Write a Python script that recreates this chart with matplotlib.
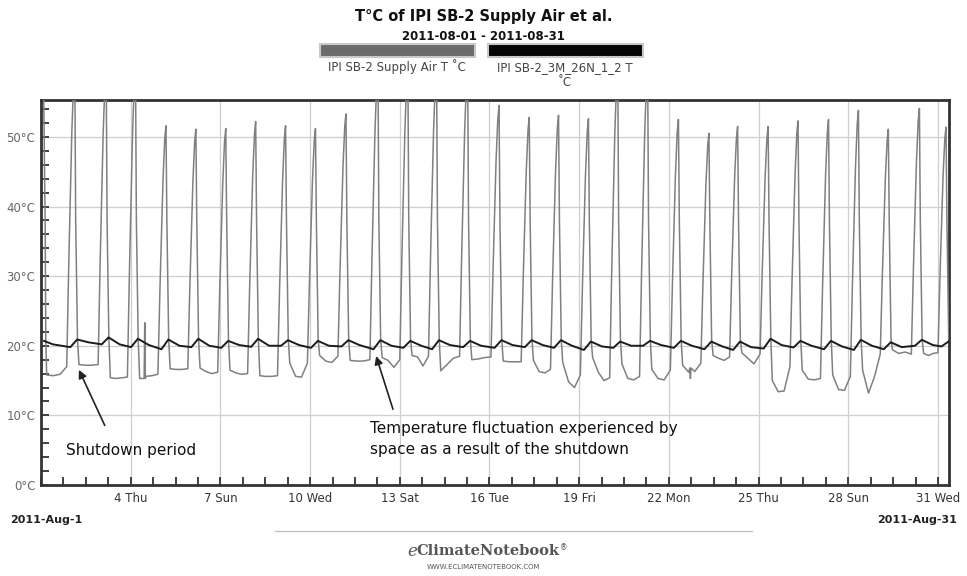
import numpy as np
import matplotlib.pyplot as plt
from matplotlib.patches import Rectangle
from matplotlib.lines import Line2D

# ---- data (x = day of August 2011, fractional) ----
# daily supply air spikes: time of peak and peak temperature (60 = runs off the top)
peak_day = [2.13, 3.18, 4.16, 5.18, 6.18, 7.18, 8.18, 9.18, 10.18, 11.2,
            12.27, 13.27, 14.23, 15.27, 16.32, 17.33, 18.31, 19.31, 20.29, 21.29,
            22.32, 23.34, 24.3, 25.32, 26.32, 27.34, 28.34, 29.34, 30.38, 31.27]
peak_temp = [60, 60, 60, 51.6, 51.1, 51.2, 52.2, 51.6, 51.2, 53.3,
             60, 60, 60, 60, 54.5, 52.8, 53.1, 52.6, 60, 60,
             52.5, 50.5, 51.5, 51.5, 52.3, 52.5, 53.8, 51.1, 54.1, 51.4]

# supply air between spikes (shutdown hours), four readings per gap, gap i comes before spike i
night_a = [15.8, 17.3, 15.4, 15.3, 16.7, 16.8, 16.5, 15.7, 17.5, 18.6,
           17.9, 18.3, 18.6, 16.4, 18.0, 17.8, 17.9, 17.6, 18.3, 17.4,
           16.6, 17.2, 18.6, 19.0, 15.0, 16.5, 15.8, 16.5, 19.4, 18.9]
night_b = [15.7, 17.2, 15.3, 15.6, 16.6, 16.3, 16.1, 15.6, 15.6, 17.8,
           17.8, 17.9, 18.4, 17.3, 18.1, 17.7, 16.3, 14.8, 16.2, 15.3,
           15.3, 16.2, 18.2, 18.2, 13.4, 15.2, 13.7, 13.2, 18.9, 18.6]
night_c = [15.9, 17.2, 15.4, 15.7, 16.6, 16.0, 15.9, 15.6, 15.5, 17.6,
           17.8, 16.9, 17.1, 18.2, 18.3, 17.7, 16.1, 14.0, 15.0, 15.1,
           15.1, 16.3, 17.9, 17.4, 13.5, 15.1, 13.6, 15.5, 19.1, 18.9]
night_d = [17.0, 17.3, 15.5, 15.9, 16.7, 16.2, 16.0, 15.7, 17.5, 18.5,
           18.0, 18.0, 18.5, 18.5, 18.4, 17.7, 16.6, 15.8, 15.4, 15.6,
           16.5, 17.5, 18.4, 18.8, 17.0, 15.3, 15.6, 18.8, 18.8, 19.0]

# short sensor glitches in the supply air trace
glitch_day = [4.45, 4.47, 4.49, 22.70, 22.72, 22.74]
glitch_temp = [15.3, 23.3, 15.3, 16.8, 15.3, 16.8]

# space temperature: just before, just after and between each spike
space_lo = [19.8, 20.2, 19.8, 19.5, 19.8, 19.7, 19.85, 20.0, 19.7, 19.9,
            19.5, 19.7, 19.5, 19.8, 19.7, 19.8, 19.7, 19.4, 19.7, 20.0,
            19.7, 19.5, 19.4, 19.6, 19.75, 19.5, 19.4, 19.5, 20.0, 19.9]
space_hi = [20.9, 21.2, 21.0, 20.9, 21.0, 20.7, 21.0, 20.8, 20.7, 20.8,
            20.8, 20.7, 20.8, 20.7, 20.8, 20.8, 20.8, 20.6, 20.6, 20.7,
            20.7, 20.6, 20.6, 21.0, 20.7, 20.7, 20.85, 20.5, 20.85, 20.6]
space_mid = [20.5, 20.2, 20.1, 20.0, 20.0, 20.1, 20.0, 20.1, 20.0, 20.1,
             20.0, 20.0, 20.1, 20.0, 20.1, 20.1, 20.0, 19.9, 20.0, 20.1,
             20.0, 19.9, 19.8, 20.1, 20.0, 19.9, 20.0, 19.8, 20.1, 20.1]

tick_days = [4, 7, 10, 13, 16, 19, 22, 25, 28, 31]
tick_labels = ['4 Thu', '7 Sun', '10 Wed', '13 Sat', '16 Tue', '19 Fri',
               '22 Mon', '25 Thu', '28 Sun', '31 Wed']
y_ticks = [0, 10, 20, 30, 40, 50]

# ---- build the two traces ----
sup = [(1.08, 60), (1.14, 37), (1.16, 21)]
prev = 1.05
for i, tp in enumerate(peak_day):
    start = prev + 0.14
    end = tp - 0.27
    for f, v in zip([0, 1/3, 2/3, 1], [night_a[i], night_b[i], night_c[i], night_d[i]]):
        sup.append((start + f * (end - start), v))
    base = night_d[i]
    p = peak_temp[i]
    sup += [(tp - 0.2, base + 0.35 * (p - base)), (tp - 0.1, base + 0.78 * (p - base)),
            (tp - 0.04, base + 0.95 * (p - base)), (tp, p),
            (tp + 0.03, 38), (tp + 0.09, 21)]
    prev = tp
sup += list(zip(glitch_day, glitch_temp))
sup.sort()
sup_t = [s[0] for s in sup]
sup_v = [s[1] for s in sup]

spc = [(1.1, 20.7), (1.4, 20.2)]
for i, tp in enumerate(peak_day):
    spc += [(tp - 0.15, space_lo[i]), (tp + 0.08, space_hi[i]), (tp + 0.45, space_mid[i])]
spc_t = [s[0] for s in spc]
spc_v = [s[1] for s in spc]

# ---- figure ----
fig = plt.figure(figsize=(9.67, 5.76), dpi=100)
ax = fig.add_axes([0.0424, 0.158, 0.939, 0.6684])

ax.plot(sup_t, sup_v, color='#808080', lw=1.1, zorder=3)
ax.plot(spc_t, spc_v, color='#1c1c1c', lw=1.4, zorder=4)

ax.set_xlim(1.1, 31.37)
ax.set_ylim(0, 55.3)
ax.set_xticks(tick_days)
ax.set_xticklabels(tick_labels)
ax.set_xticks(np.arange(1, 31.5, 0.75), minor=True)
ax.set_yticks(y_ticks)
ax.set_yticklabels([f'{v}°C' for v in y_ticks])
ax.set_yticks(np.arange(0, 55, 2), minor=True)
ax.tick_params(which='both', direction='in', length=6, width=1.3, color='#333333')
ax.tick_params(axis='x', labelsize=8.5, labelcolor='#333333', pad=5)
ax.tick_params(axis='y', labelsize=8.5, labelcolor='#666666', pad=4)
ax.grid(which='major', color='#cfcfcf', lw=0.9)
ax.set_axisbelow(True)
for sp in ax.spines.values():
    sp.set_linewidth(2)
    sp.set_color('#333333')

# annotations
ax.annotate('', xy=(2.23, 16.9), xytext=(3.17, 8.2),
            arrowprops=dict(arrowstyle='-|>', color='#222222', lw=1.2, mutation_scale=12))
ax.text(1.83, 5.0, 'Shutdown period', fontsize=11, va='center', color='#111111')
ax.annotate('', xy=(12.18, 18.9), xytext=(12.8, 10.5),
            arrowprops=dict(arrowstyle='-|>', color='#222222', lw=1.2, mutation_scale=12))
ax.text(12.0, 6.6, 'Temperature fluctuation experienced by\nspace as a result of the shutdown',
        fontsize=11, va='center', linespacing=1.45, color='#111111')

# title and legend
fig.text(0.5, 0.9705, 'T°C of IPI SB-2 Supply Air et al.', ha='center', va='center',
         fontsize=10.5, fontweight='bold', color='#111111')
fig.text(0.5, 0.936, '2011-08-01 - 2011-08-31', ha='center', va='center',
         fontsize=8.5, fontweight='bold', color='#111111')
fig.patches.append(Rectangle((320 / 967, 1 - 57 / 576), 155 / 967, 13 / 576,
                             transform=fig.transFigure, facecolor='#6b6b6b',
                             edgecolor='#c8c8c8', lw=1.5))
fig.patches.append(Rectangle((488 / 967, 1 - 57 / 576), 155 / 967, 13 / 576,
                             transform=fig.transFigure, facecolor='#050505',
                             edgecolor='#c8c8c8', lw=1.5))
fig.text(397 / 967, 1 - 67 / 576, 'IPI SB-2 Supply Air T ˚C', ha='center', va='center',
         fontsize=8.5, color='#444444')
fig.text(565 / 967, 1 - 61 / 576, 'IPI SB-2_3M_26N_1_2 T\n˚C', ha='center', va='top',
         fontsize=8.5, color='#444444', multialignment='center', linespacing=1.25)

# date range corners
fig.text(10 / 967, 1 - 520 / 576, '2011-Aug-1', ha='left', va='center',
         fontsize=8, fontweight='bold', color='#222222')
fig.text(957 / 967, 1 - 520 / 576, '2011-Aug-31', ha='right', va='center',
         fontsize=8, fontweight='bold', color='#222222')

# footer
fig.add_artist(Line2D([275 / 967, 752 / 967], [1 - 531 / 576, 1 - 531 / 576],
                      transform=fig.transFigure, color='#c0c0c0', lw=0.9))
brand = fig.text(0.505, 1 - 551 / 576, 'ClimateNotebook', ha='center', va='center',
                 fontsize=10.5, fontweight='bold', family='DejaVu Serif', color='#555555')
ax.annotate('e', xy=(0, 0.45), xycoords=brand, ha='right', va='center', fontsize=12,
            style='italic', family='DejaVu Serif', color='#555555', annotation_clip=False)
ax.annotate('®', xy=(1, 0.75), xycoords=brand, ha='left', va='center', fontsize=5.5,
            color='#555555', annotation_clip=False)
fig.text(0.5, 1 - 567 / 576, 'WWW.ECLIMATENOTEBOOK.COM', ha='center', va='center',
         fontsize=5, color='#555555')

plt.savefig('out.png', dpi=100)
